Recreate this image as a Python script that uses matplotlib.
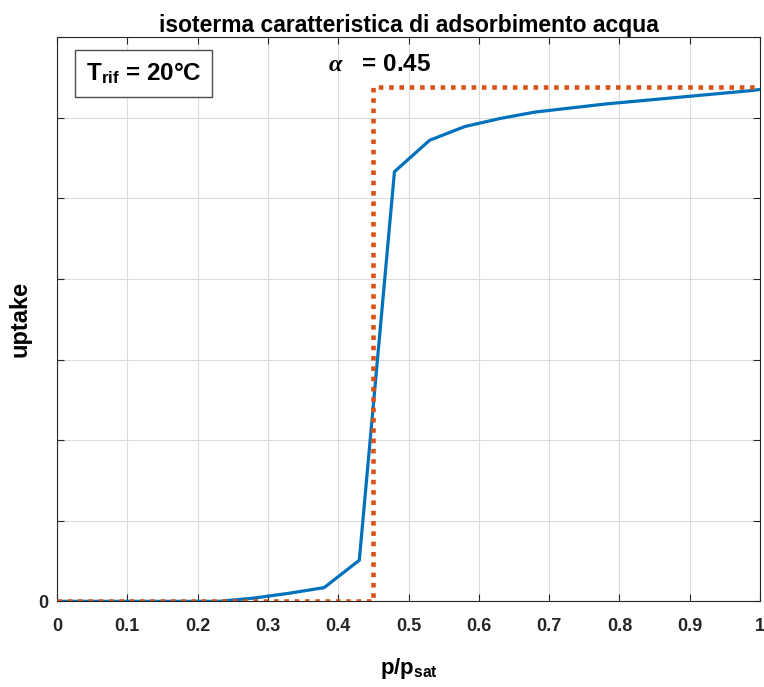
import numpy as np
import matplotlib
matplotlib.use("Agg")
import matplotlib.pyplot as plt

plt.rcParams['font.family'] = ['Liberation Sans', 'DejaVu Sans']
plt.rcParams['font.weight'] = 'bold'
plt.rcParams['mathtext.fontset'] = 'custom'
plt.rcParams['mathtext.rm'] = 'Liberation Sans:bold'
plt.rcParams['mathtext.bf'] = 'Liberation Sans:bold'
plt.rcParams['mathtext.it'] = 'Liberation Serif:italic'

# isotherm samples
p_rel = [0.0, 0.03, 0.08, 0.13, 0.18, 0.23, 0.28, 0.33, 0.38, 0.43, 0.48,
         0.53, 0.58, 0.63, 0.68, 0.73, 0.78, 0.83, 0.88, 0.93, 0.98, 1.0]
uptake = [0.0, 0.0, 0.0, 0.0, 0.0, 0.0, 0.04, 0.10, 0.17, 0.51, 5.33,
          5.72, 5.89, 5.99, 6.07, 6.12, 6.17, 6.21, 6.25, 6.29, 6.33, 6.35]

# ideal step isotherm
alpha = 0.45
step_x = [0.0, alpha, alpha, 1.0]
step_y = [0.0, 0.0, 6.38, 6.38]

xtick_labels = ['0', '0.1', '0.2', '0.3', '0.4', '0.5', '0.6', '0.7', '0.8', '0.9', '1']

blue = (0.0, 0.447, 0.741)
orange = (0.85, 0.325, 0.098)

fig = plt.figure(figsize=(7.64, 6.87), dpi=100)
ax = fig.add_axes([0.0746, 0.1247, 0.9202, 0.8213])

ax.plot(p_rel, uptake, color=blue, linewidth=2.3, zorder=3)
ax.plot(step_x, step_y, color=orange, linewidth=3.3, linestyle=(0, (1.0, 1.25)), zorder=4)

ax.set_xlim(0, 1)
ax.set_ylim(0, 7)
ax.set_xticks(np.arange(0, 1.01, 0.1))
ax.set_xticklabels(xtick_labels)
ax.set_yticks(range(8))
ax.set_yticklabels(['0'] + [''] * 7)
ax.tick_params(direction='in', top=True, right=True, length=5, labelsize=13,
               colors='0.15', width=0.8)
ax.tick_params(axis='x', pad=12)
ax.tick_params(axis='y', pad=6)
for lab in ax.get_xticklabels() + ax.get_yticklabels():
    lab.set_fontweight('bold')
    lab.set_color('0.15')
ax.grid(True, color='0.86', linewidth=0.8)
ax.set_axisbelow(True)
for s in ax.spines.values():
    s.set_color('0.15')
    s.set_linewidth(0.8)

ax.set_title('isoterma caratteristica di adsorbimento acqua', fontsize=16.5,
             fontweight='bold', pad=4)
ax.set_xlabel(r'p/p$_{\mathrm{sat}}$', fontsize=16, fontweight='bold', labelpad=15)
ax.set_ylabel('uptake', fontsize=17, fontweight='bold', labelpad=5)

ax.text(0.123, 6.55, r'T$_{\mathrm{rif}}$ = 20°C', fontsize=17.5, fontweight='bold',
        ha='center', va='center',
        bbox=dict(boxstyle='square,pad=0.45', facecolor='white', edgecolor='0.3',
                  linewidth=1.0))
ax.text(0.459, 6.66, r'$\alpha$   = 0.45', fontsize=17.5, fontweight='bold',
        ha='center', va='center')

fig.savefig('out.png', dpi=100)
